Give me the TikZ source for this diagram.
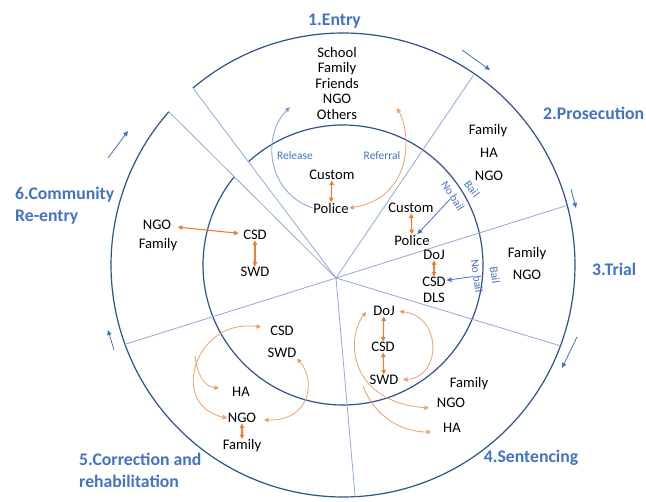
\documentclass[tikz,border=0pt]{standalone}
\usepackage{fontspec}
\setmainfont{Carlito}
\usetikzlibrary{arrows.meta,calc}
\definecolor{tblue}{HTML}{4472C4}
\definecolor{ringblue}{HTML}{2F528F}
\definecolor{spokeblue}{HTML}{8FAADC}
\definecolor{oarrow}{HTML}{ED7D31}
\definecolor{ocurv}{HTML}{F19E68}
\tikzset{
  lbl/.style={font=\fontsize{14.6}{15.5}\selectfont, inner sep=0.5pt, text=black},
  ttl/.style={font=\fontsize{17.7}{22}\selectfont\bfseries, text=tblue, inner sep=0pt},
  sml/.style={font=\fontsize{11.5}{14}\selectfont, text=tblue, inner sep=0pt},
  ring/.style={draw=ringblue, line width=1.2pt},
  spoke/.style={draw=spokeblue, line width=0.8pt},
  oarr/.style={draw=oarrow, line width=1.1pt, {Triangle[length=4.5pt,width=4.5pt]}-{Triangle[length=4.5pt,width=4.5pt]}},
  ocurve/.style={draw=ocurv, line width=0.8pt},
  bcurve/.style={draw=spokeblue, line width=0.9pt},
  barr/.style={draw=tblue, line width=0.8pt, -{Triangle[length=5pt,width=4.5pt]}},
}
\begin{document}
\begin{tikzpicture}[x=1pt,y=-1pt]
\useasboundingbox (0,0) rectangle (646,502);
\fill[white] (0,0) rectangle (646,502);

\coordinate (O) at (343,265);
\coordinate (C) at (336,278);

% rings
\draw[ring] ($(O)+(-130.3:232)$) arc[start angle=-130.3, end angle=221.35, radius=232];
\draw[ring] ($(O)+(-132.5:140)$) arc[start angle=-132.5, end angle=219.1, radius=140];

% spokes
\coordinate (s1) at ($(O)+(-130.3:232)$);
\coordinate (s2) at ($(O)+(221.35:232)$);
\coordinate (s3) at ($(O)+(-55.5:232)$);
\coordinate (s4) at ($(O)+(-14.9:232)$);
\coordinate (s5) at ($(O)+(20.4:232)$);
\coordinate (s6) at ($(O)+(87.0:232)$);
\coordinate (s7) at ($(O)+(160.0:232)$);
\foreach \s in {s1,s2,s3,s4,s5,s6,s7} \draw[spoke] (C) -- (\s);

% titles
\node[ttl] (t1) at (334.5,21) {1.Entry};
\node[ttl,anchor=west] (t2) at (543,113) {2.Prosecution};
\node[ttl,anchor=west] (t3) at (592,269) {3.Trial};
\node[ttl] (t4) at (531,458) {4.Sentencing};
\node[ttl,anchor=west,align=left] (t5) at (79,470) {5.Correction and\\rehabilitation};
\node[ttl,anchor=west,align=left] (t6) at (15,206) {6.Community\\Re-entry};

% Entry
\node[lbl,align=center] (entities) at (337,83) {School\\Family\\Friends\\NGO\\Others};
\node[sml] (release) at (295,156) {Release};
\node[sml] (referral) at (382,156) {Referral};
\node[lbl] (custE) at (332,175) {Custom};
\node[lbl] (polE) at (331,208) {Police};
\draw[oarr] (custE) -- (polE);
\coordinate (relEnd) at (290,107);
\draw[bcurve,-{Triangle[length=5pt,width=4.5pt,fill=tblue]}] (polE.west) .. controls (266,192) and (262,135) .. (relEnd);
\coordinate (refStart) at (397,108);
\draw[ocurve,{Triangle[length=4.5pt,width=4.5pt]}-{Triangle[length=4.5pt,width=4.5pt]}] (refStart) .. controls (412,135) and (412,198) .. (polE.east);

% Prosecution
\node[lbl] (famP) at (488,131) {Family};
\node[lbl] (haP) at (489,153) {HA};
\node[lbl] (ngoP) at (489,176) {NGO};
\node[lbl] (custP) at (411,208) {Custom};
\node[lbl] (polP) at (412,240) {Police};
\node[sml,rotate=-58] (nbP) at (453,196) {No bail};
\node[sml,rotate=-52] (bP) at (472,189) {Bail};
\draw[oarr] (custP) -- (polP);
\draw[barr] (nbP) -- (polP);

% Trial
\node[lbl] (dojT) at (434,255) {DoJ};
\node[lbl] (csdT) at (434,282) {CSD};
\node[lbl] (dlsT) at (434,298) {DLS};
\node[lbl] (famT) at (527,254) {Family};
\node[lbl] (ngoT) at (527,275) {NGO};
\node[sml,rotate=-82] (nbT) at (477,276) {No bail};
\node[sml,rotate=-82] (bT) at (495,275) {Bail};
\draw[oarr] (dojT) -- (csdT);
\draw[barr] (nbT) -- (csdT);

% Sentencing
\node[lbl] (dojS) at (384,311) {DoJ};
\node[lbl] (csdS) at (383,347) {CSD};
\node[lbl] (swdS) at (384,380) {SWD};
\node[lbl] (famS) at (469,384) {Family};
\node[lbl] (ngoS) at (451,403) {NGO};
\node[lbl] (haS) at (452,428) {HA};
\draw[oarr] (dojS) -- (csdS);
\draw[oarr] (csdS) -- (swdS);
\draw[ocurve,{Triangle[length=4.5pt,width=4.5pt]}-{Triangle[length=4.5pt,width=4.5pt]}, shorten <=4pt, shorten >=4pt] (dojS.east) .. controls (442,316) and (442,377) .. (swdS.east);
\coordinate (dojL) at (366,312);
\coordinate (ngoSL) at (429,408);
\draw[ocurve,{Triangle[length=4.5pt,width=4.5pt]}-{Triangle[length=4.5pt,width=4.5pt]}] (dojL) .. controls (345,340) and (350,402) .. (ngoSL);
\coordinate (brS) at (363,386);
\coordinate (haSL) at (431,432);
\draw[ocurve,-{Triangle[length=4.5pt,width=4.5pt]}] (brS) .. controls (376,420) and (405,432) .. (haSL);

% Correction
\node[lbl] (csdC) at (282,331) {CSD};
\node[lbl] (swdC) at (282,353) {SWD};
\node[lbl] (haC) at (241,392) {HA};
\node[lbl] (ngoC) at (242,418) {NGO};
\node[lbl] (famC) at (242,446) {Family};
\draw[oarr] (ngoC) -- (famC);
\coordinate (csdCL) at (261,327);
\draw[ocurve,{Triangle[length=4.5pt,width=4.5pt]}-{Triangle[length=4.5pt,width=4.5pt]}] (csdCL) .. controls (195,318) and (168,405) .. (ngoC.west);
\coordinate (brC) at (195,356);
\coordinate (haCL) at (219,388);
\draw[ocurve,-{Triangle[length=4.5pt,width=4.5pt]}] (brC) .. controls (197,375) and (205,387) .. (haCL);
\coordinate (ngoCR) at (264,420);
\draw[ocurve,{Triangle[length=4.5pt,width=4.5pt]}-{Triangle[length=4.5pt,width=4.5pt]}] (swdC.south east) .. controls (316,380) and (311,421) .. (ngoCR);

% Community re-entry
\node[lbl] (ngoR) at (157,225) {NGO};
\node[lbl] (famR) at (158,245) {Family};
\node[lbl] (csdR) at (255,235) {CSD};
\node[lbl] (swdR) at (255,272) {SWD};
\draw[oarr, shorten <=6pt, shorten >=4pt] (ngoR) -- (csdR);
\draw[oarr] (csdR) -- (swdR);

% direction arrows outside the ring
\coordinate (a1s) at (462,50);  \coordinate (a1e) at (490,70);
\coordinate (a2s) at (571,189); \coordinate (a2e) at (576,208);
\coordinate (a3s) at (577,337); \coordinate (a3e) at (562,368);
\coordinate (a4s) at (114,350); \coordinate (a4e) at (108,330);
\coordinate (a5s) at (108,158); \coordinate (a5e) at (128,131);
\draw[barr] (a1s) -- (a1e);
\draw[barr] (a2s) -- (a2e);
\draw[barr] (a3s) -- (a3e);
\draw[barr] (a4s) -- (a4e);
\draw[barr] (a5s) -- (a5e);
\end{tikzpicture}
\end{document}
